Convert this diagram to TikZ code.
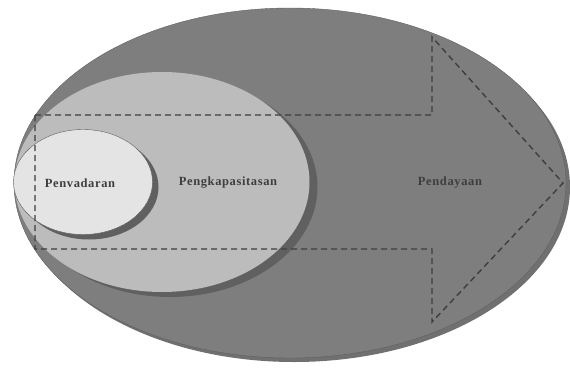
\documentclass[tikz,border=0pt]{standalone}
\usepackage{fontspec}
\usetikzlibrary{shapes.geometric}
\newfontfamily\labelfont[LetterSpace=5]{Liberation Serif}
\definecolor{outergray}{RGB}{126,126,126}
\definecolor{rimgray}{RGB}{112,112,112}
\definecolor{middlegray}{RGB}{188,188,188}
\definecolor{innergray}{RGB}{228,228,228}
\definecolor{shadegray}{RGB}{96,96,96}
\definecolor{inkgray}{RGB}{62,62,62}
\tikzset{
  blob/.style={ellipse, inner sep=0pt},
  stagelabel/.style={font=\labelfont\bfseries\fontsize{12.5}{14}\selectfont, text=inkgray},
  arrowline/.style={dashed, dash pattern=on 6pt off 4pt, draw=inkgray, line width=1.4pt}
}
\begin{document}
\begin{tikzpicture}[x=1pt,y=-1pt]
  \useasboundingbox (0,0) rectangle (570,367);
  % outer ellipse with its rim
  \node[blob, fill=rimgray, minimum width=552pt, minimum height=350pt] at (294,187) {};
  \node[blob, fill=outergray, draw=shadegray, line width=0.4pt,
        minimum width=552pt, minimum height=350pt] (outer) at (290,183) {};
  % middle ellipse
  \node[blob, fill=shadegray, minimum width=295pt, minimum height=220pt] at (170,187) {};
  \node[blob, fill=middlegray, minimum width=295pt, minimum height=220pt] (middle) at (162,182) {};
  % inner ellipse
  \node[blob, fill=shadegray, minimum width=139pt, minimum height=105pt] at (89,187) {};
  \node[blob, fill=innergray, draw=shadegray, line width=0.4pt,
        minimum width=139pt, minimum height=105pt] (inner) at (83,182) {};
  % dashed arrow
  \coordinate (a1) at (35,115);
  \coordinate (a2) at (432,115);
  \coordinate (a3) at (432,37);
  \coordinate (tip) at (563,183);
  \coordinate (a5) at (432,322);
  \coordinate (a6) at (432,249);
  \coordinate (a7) at (35,249);
  \draw[arrowline] (a1) -- (a2) -- (a3) -- (tip) -- (a5) -- (a6) -- (a7) -- cycle;
  % labels
  \node[stagelabel] (penyadaran) at (80,183) {Penvadaran};
  \node[stagelabel] (kapasitas) at (228,183) {Pengkapasitasan};
  \node[stagelabel] (daya) at (450,183) {Pendayaan};
\end{tikzpicture}
\end{document}
